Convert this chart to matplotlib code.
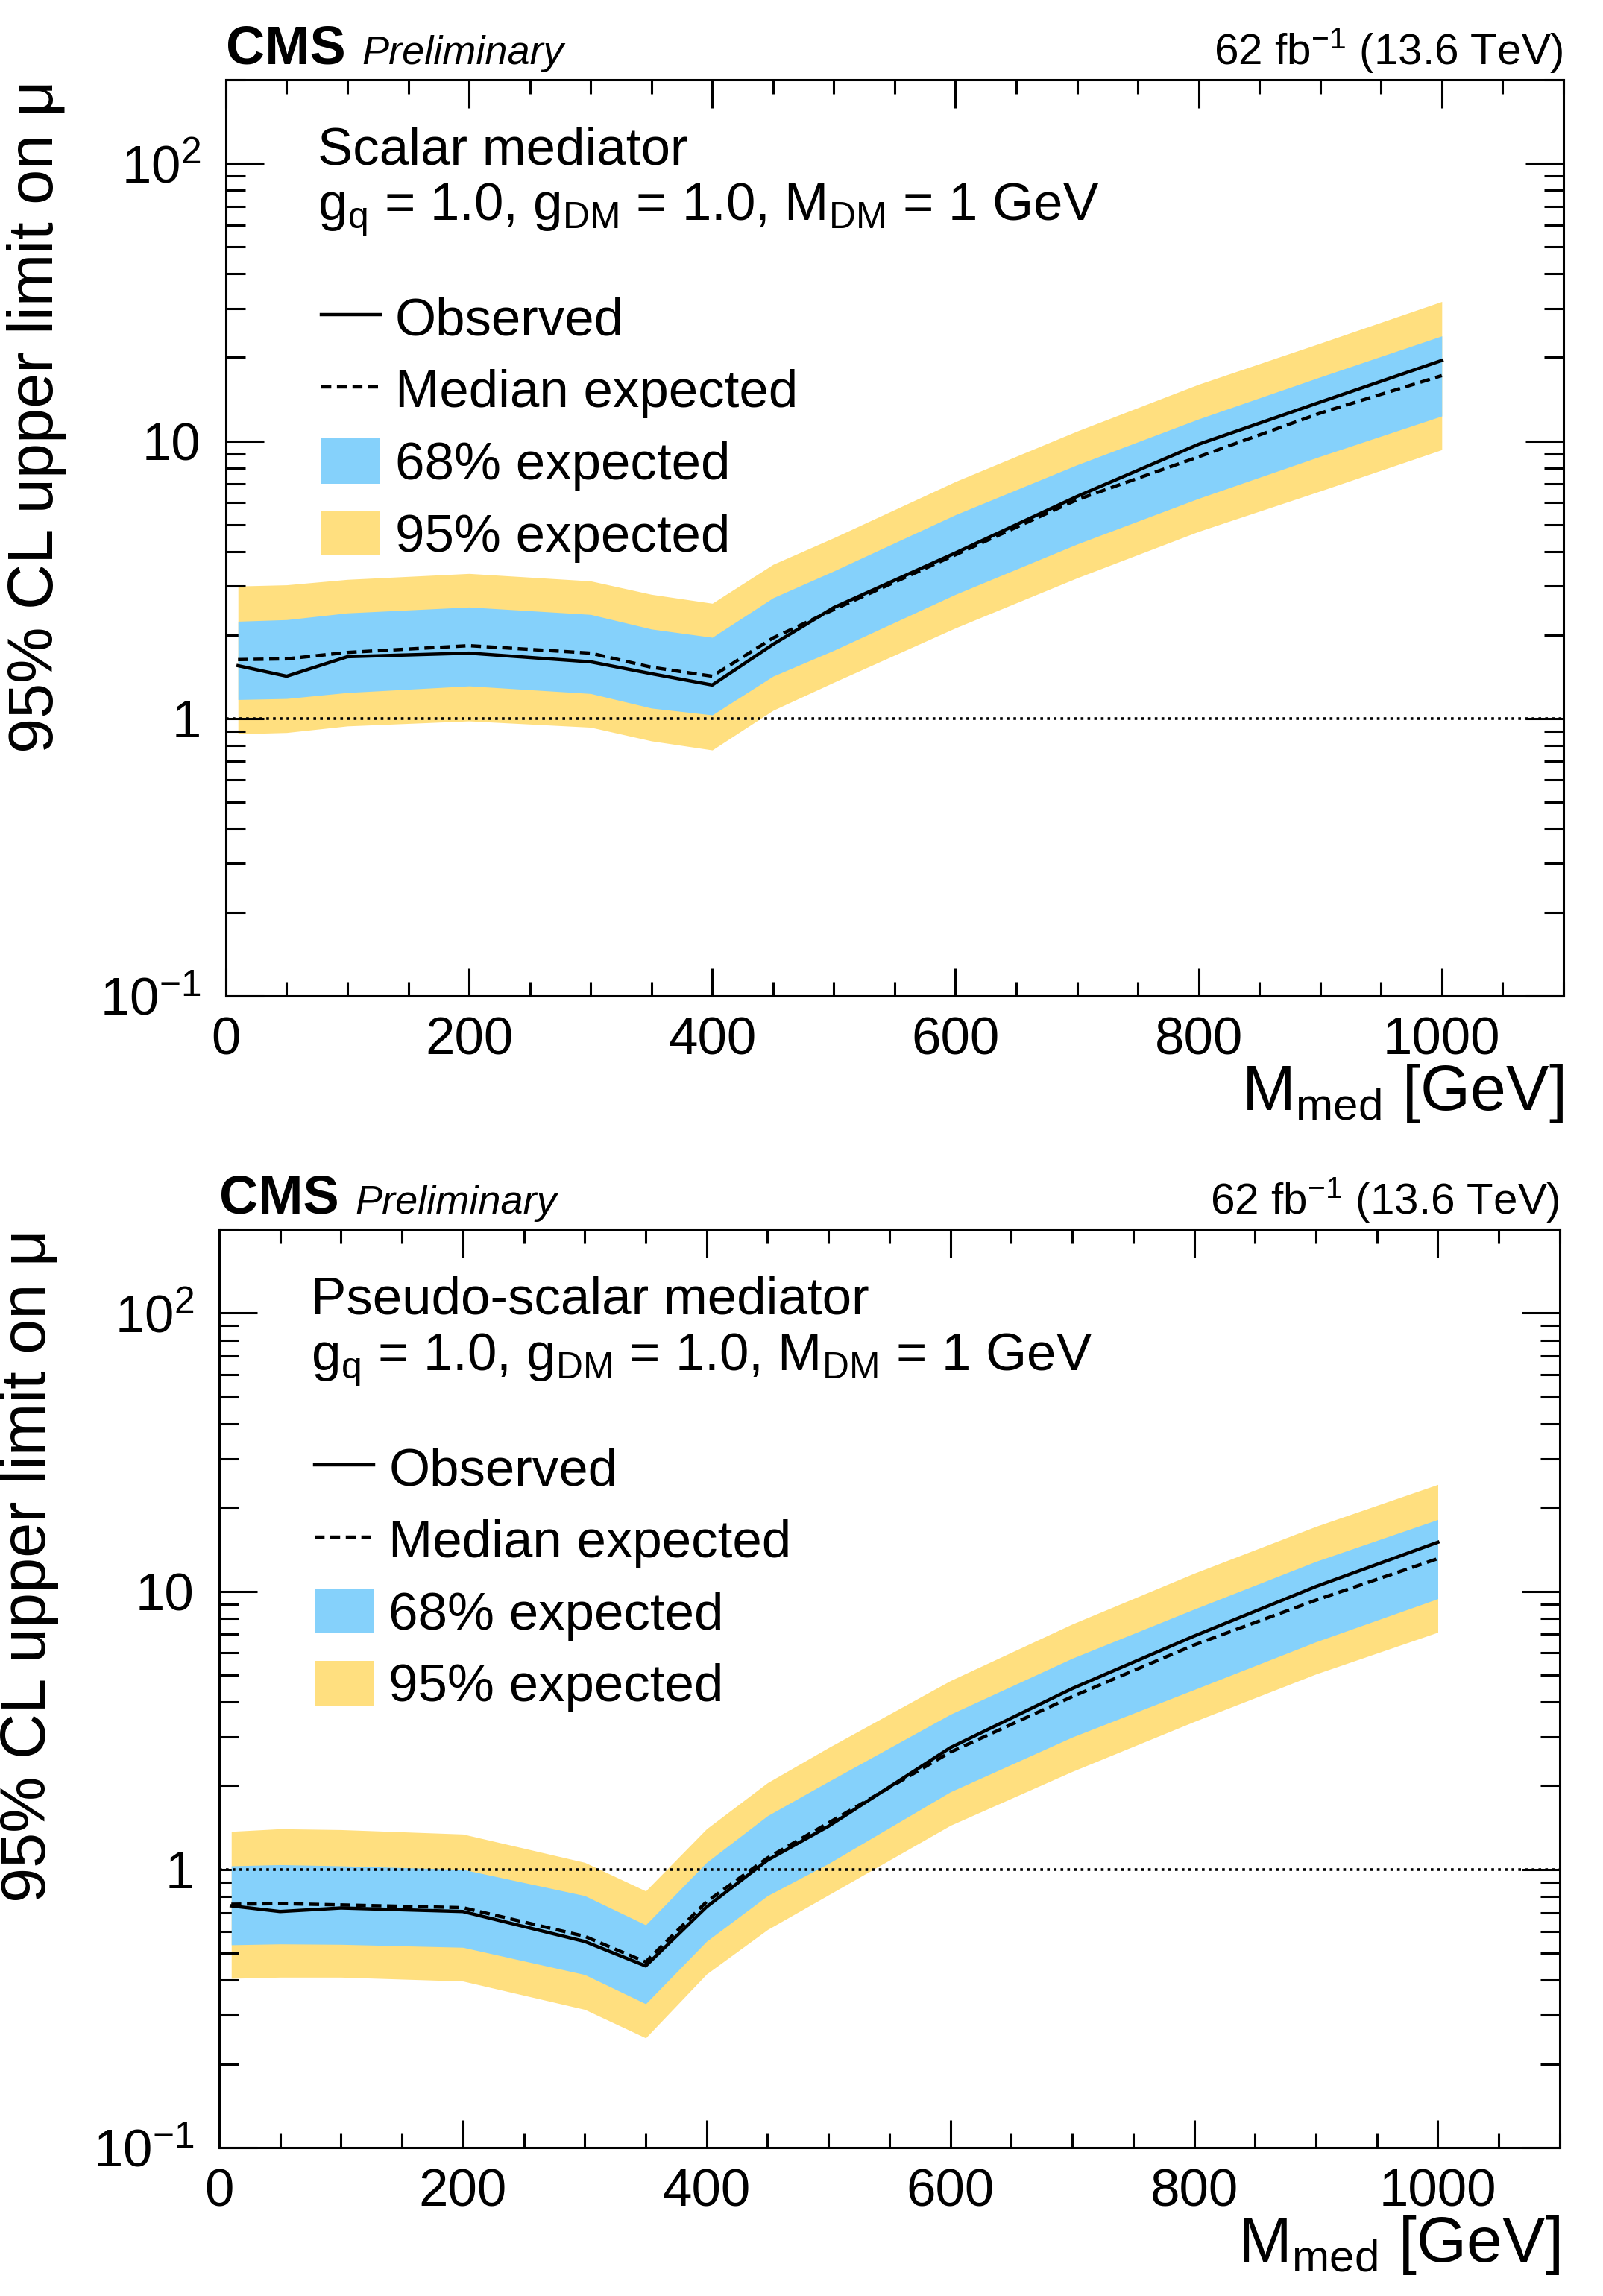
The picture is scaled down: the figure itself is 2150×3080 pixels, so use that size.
import matplotlib
matplotlib.use("Agg")
import matplotlib.pyplot as plt
from matplotlib.lines import Line2D
from matplotlib.patches import Patch
from matplotlib.ticker import FixedLocator, FixedFormatter, LogLocator, NullFormatter, MultipleLocator

plt.rcParams['font.family'] = ['Liberation Sans', 'DejaVu Sans']
plt.rcParams['mathtext.fontset'] = 'custom'
plt.rcParams['mathtext.rm'] = 'Liberation Sans'
plt.rcParams['mathtext.it'] = 'Liberation Sans:italic'
plt.rcParams['mathtext.bf'] = 'Liberation Sans:bold'
plt.rcParams['mathtext.default'] = 'regular'

# ---------------- data ----------------
mass = [10, 50, 100, 200, 300, 350, 400, 450, 500, 600, 700, 800, 900, 1000]

# Scalar mediator
s_obs = [1.55, 1.42, 1.67, 1.72, 1.60, 1.45, 1.32, 1.85, 2.51, 3.95, 6.31, 9.73, 13.8, 19.5]
s_exp = [1.63, 1.64, 1.73, 1.83, 1.72, 1.53, 1.42, 1.95, 2.47, 3.89, 6.14, 8.77, 12.6, 17.2]
s_u68 = [2.24, 2.27, 2.40, 2.52, 2.37, 2.10, 1.96, 2.72, 3.40, 5.42, 8.2, 12.0, 17.0, 23.9]
s_l68 = [1.17, 1.18, 1.24, 1.31, 1.23, 1.09, 1.03, 1.42, 1.76, 2.80, 4.25, 6.21, 8.8, 12.3]
s_u95 = [3.00, 3.03, 3.17, 3.33, 3.13, 2.80, 2.60, 3.59, 4.48, 7.14, 10.85, 16.0, 22.5, 31.8]
s_l95 = [0.88, 0.89, 0.94, 0.98, 0.93, 0.83, 0.77, 1.07, 1.35, 2.12, 3.21, 4.72, 6.6, 9.3]

# Pseudo-scalar mediator
p_obs = [0.740, 0.706, 0.727, 0.706, 0.551, 0.450, 0.734, 1.08, 1.43, 2.74, 4.47, 6.90, 10.4, 15.0]
p_exp = [0.750, 0.754, 0.746, 0.729, 0.575, 0.465, 0.766, 1.10, 1.47, 2.64, 4.18, 6.41, 9.29, 13.1]
p_u68 = [1.03, 1.04, 1.03, 1.00, 0.805, 0.632, 1.06, 1.56, 2.07, 3.61, 5.74, 8.62, 12.8, 18.1]
p_l68 = [0.536, 0.540, 0.538, 0.525, 0.419, 0.329, 0.552, 0.805, 1.05, 1.90, 2.99, 4.43, 6.58, 9.4]
p_u95 = [1.37, 1.40, 1.39, 1.34, 1.06, 0.837, 1.40, 2.05, 2.74, 4.77, 7.62, 11.6, 17.1, 24.2]
p_l95 = [0.406, 0.410, 0.410, 0.397, 0.314, 0.248, 0.421, 0.608, 0.81, 1.44, 2.25, 3.40, 5.04, 7.12]

ytick_vals = [0.1, 1, 10, 100]
ytick_labels = ['$10^{-1}$', '1', '10', '$10^{2}$']
legend_labels = ['Observed', 'Median expected', '68% expected', '95% expected']

C68 = '#85D1FB'
C95 = '#FFDF7F'
LW = 3.2
DASH = (0, (3.0, 1.7))

fig = plt.figure(figsize=(21.5, 30.8), dpi=100)
ax1 = fig.add_axes([0.1409, 0.5662, 0.8344, 0.3990])
ax2 = fig.add_axes([0.1367, 0.0646, 0.8363, 0.4000])


def draw(ax, obs, exp, u68, l68, u95, l95, title):
    ax.fill_between(mass, l95, u95, color=C95, lw=0, zorder=1)
    ax.fill_between(mass, l68, u68, color=C68, lw=0, zorder=2)
    ax.axhline(1.0, color='black', lw=2.6, ls=(0, (1, 1.5)), zorder=3)
    ax.plot(mass, exp, color='black', lw=LW, ls=DASH, zorder=4)
    ax.plot(mass, obs, color='black', lw=LW, ls='-', zorder=5)

    ax.set_xlim(0, 1100)
    ax.set_yscale('log')
    ax.set_ylim(0.1, 200)

    ax.xaxis.set_major_locator(MultipleLocator(200))
    ax.xaxis.set_minor_locator(MultipleLocator(50))
    ax.yaxis.set_major_locator(FixedLocator(ytick_vals))
    ax.yaxis.set_major_formatter(FixedFormatter(ytick_labels))
    ax.yaxis.set_minor_locator(LogLocator(base=10, subs=range(2, 10), numticks=20))
    ax.yaxis.set_minor_formatter(NullFormatter())

    ax.tick_params(which='both', direction='in', top=True, right=True, width=2.2, labelsize=51)
    ax.tick_params(axis='x', which='major', length=27, pad=20)
    ax.tick_params(axis='x', which='minor', length=14)
    ax.tick_params(axis='y', which='major', length=37, pad=24)
    ax.tick_params(axis='y', which='minor', length=19)
    for sp in ax.spines.values():
        sp.set_linewidth(2.2)

    ax.set_xlabel('M$_{med}$ [GeV]', fontsize=62, loc='right')
    ax.xaxis.set_label_coords(1.0, -0.1245)
    ax.xaxis.label.set_va('baseline')
    ax.set_ylabel('95% CL upper limit on \u03bc', fontsize=61, loc='top')
    ax.yaxis.set_label_coords(-0.1416, 1.0)
    ax.yaxis.label.set_va('center')

    ax.annotate('CMS', xy=(0, 1), xycoords='axes fraction', xytext=(0, 15.5),
                textcoords='offset points', fontsize=52, fontweight='bold',
                ha='left', va='baseline')
    ax.annotate('Preliminary', xy=(0, 1), xycoords='axes fraction', xytext=(131, 15.5),
                textcoords='offset points', fontsize=39, fontstyle='italic',
                ha='left', va='baseline')
    ax.annotate('62 fb$^{-1}$ (13.6 TeV)', xy=(1, 1), xycoords='axes fraction',
                xytext=(0, 15.5), textcoords='offset points', fontsize=42,
                ha='right', va='baseline')

    ax.text(0.0686, 0.9081, title, transform=ax.transAxes, fontsize=51, va='baseline')
    ax.text(0.0686, 0.8470, 'g$_{q}$ = 1.0, g$_{DM}$ = 1.0, M$_{DM}$ = 1 GeV',
            transform=ax.transAxes, fontsize=51, va='baseline')

    handles = [Line2D([], [], color='black', lw=LW),
               Line2D([], [], color='black', lw=LW, ls=DASH),
               Patch(facecolor=C68, edgecolor='none'),
               Patch(facecolor=C95, edgecolor='none')]
    ax.legend(handles, legend_labels, loc='upper left', bbox_to_anchor=(0.0713, 0.7658),
              frameon=False, fontsize=51, handlelength=1.12, handleheight=0.93,
              labelspacing=0.385, handletextpad=0.28, borderpad=0, borderaxespad=0)


draw(ax1, s_obs, s_exp, s_u68, s_l68, s_u95, s_l95, 'Scalar mediator')
draw(ax2, p_obs, p_exp, p_u68, p_l68, p_u95, p_l95, 'Pseudo-scalar mediator')

fig.savefig('out.png', dpi=100)
